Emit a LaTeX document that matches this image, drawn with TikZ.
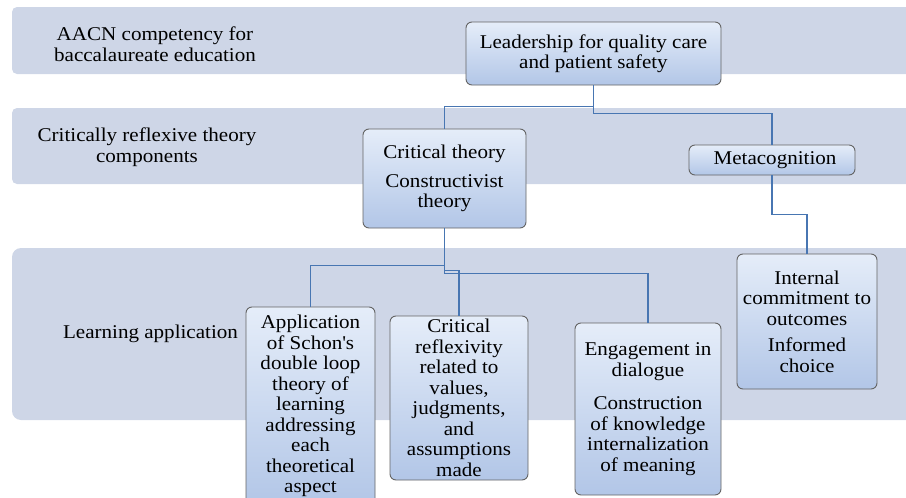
\documentclass[tikz,border=0pt]{standalone}
\usepackage{fontspec}
\setmainfont{Liberation Serif}[FakeStretch=1.08]
\definecolor{bandcol}{RGB}{206,214,231}
\definecolor{boxtop}{RGB}{229,237,249}
\definecolor{boxbot}{RGB}{178,198,231}
\definecolor{boxline}{RGB}{100,100,100}
\definecolor{linkblue}{RGB}{72,118,178}
\newcommand\dgfont{\fontsize{19.5}{20.5}\selectfont}
\begin{document}
\begin{tikzpicture}[x=1pt,y=-1pt,
  bandbox/.style={fill=bandcol, draw=none},
  box/.style={draw=boxline, line width=0.9pt, rounded corners=6pt,
    top color=boxtop, bottom color=boxbot, align=center, inner sep=0pt,
    font=\dgfont},
  lab/.style={align=center, inner sep=0pt, font=\dgfont},
  conn/.style={draw=linkblue, line width=1.3pt}]
\useasboundingbox (0,0) rectangle (906,498);
\clip (0,0) rectangle (906,498);
% bands
\fill[bandbox, rounded corners=5pt] (12,7) rectangle (920,74);
\fill[bandbox, rounded corners=5pt] (12,108) rectangle (920,184);
\fill[bandbox, rounded corners=9pt] (12,248) rectangle (920,420);
% row labels
\node[lab] (l1) at (155,44) {AACN competency for\\baccalaureate education};
\node[lab] (l2) at (147,147) {Critically reflexive theory\\components};
\node[lab] (l3) at (150.5,334) {Learning application};
% boxes
\node[box, minimum width=255pt, minimum height=63pt] (lead) at (593.5,53.5)
  {Leadership for quality care\\and patient safety};
\node[box, minimum width=163pt, minimum height=99pt] (crit) at (444.5,178.5)
  {Critical theory\\[8pt]Constructivist\\theory};
\node[box, minimum width=166pt, minimum height=30pt] (meta) at (772,160)
  {\hspace*{6pt}Metacognition};
\node[box, minimum width=140pt, minimum height=135pt] (intl) at (807,321.5)
  {Internal\\commitment to\\outcomes\\[6pt]Informed\\choice};
\node[box, minimum width=129pt, minimum height=198pt] (app) at (310.5,406)
  {Application\\of Schon\textquotesingle s\\double loop\\theory of\\learning\\addressing\\each\\theoretical\\aspect};
\node[box, minimum width=138pt, minimum height=164pt] (refl) at (459,398)
  {Critical\\reflexivity\\related to\\values,\\judgments,\\and\\assumptions\\made};
\node[box, minimum width=146pt, minimum height=172pt] (eng) at (648,409)
  {Engagement in\\dialogue\\[13pt]Construction\\of knowledge\\internalization\\of meaning};
% connectors
\draw[conn] (lead.south) -- ++(0,21) -| (crit.north);
\draw[conn] (lead.south) -- ++(0,28) -| (meta.north);
\draw[conn] (meta.south) -- ++(0,39) -| (intl.north);
\draw[conn] (crit.south) -- ++(0,37) -| (app.north);
\draw[conn] (crit.south) -- ++(0,42) -| (refl.north);
\draw[conn] (crit.south) -- ++(0,45) -| (eng.north);
\end{tikzpicture}
\end{document}
